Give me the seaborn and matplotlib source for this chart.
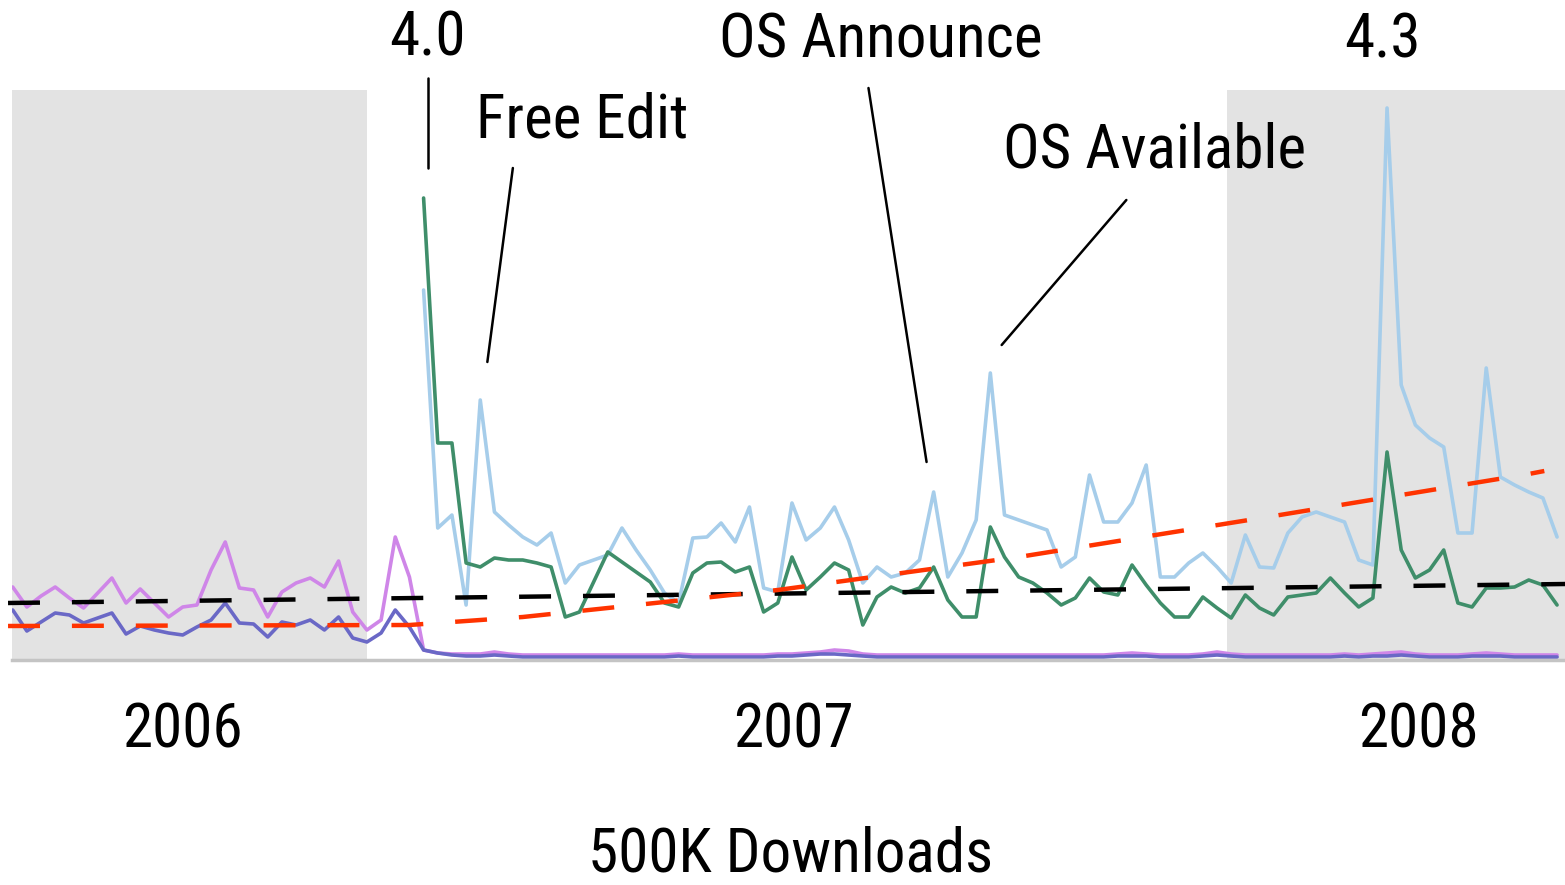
import numpy as np
import pandas as pd
import matplotlib
matplotlib.use("Agg")
import matplotlib.pyplot as plt
from matplotlib import font_manager as fm
import seaborn as sns

# ---------------- data (arbitrary download units, one value per period) ----------------
purple = [73, 53, 64, 73, 62, 52, 67, 82, 57, 71, 57, 43, 53, 55, 90, 118, 72, 70, 43, 68,
          77, 82, 73, 99, 48, 30, 40, 123, 83, 10, 7, 6, 6, 6, 8, 6, 5, 5, 5, 5,
          5, 5, 5, 5, 5, 5, 5, 6, 5, 5, 5, 5, 5, 5, 6, 6, 7, 8, 10, 9,
          6, 5, 5, 5, 5, 5, 5, 5, 5, 5, 5, 5, 5, 5, 5, 5, 5, 5, 6, 7,
          6, 5, 5, 5, 6, 8, 6, 5, 5, 5, 5, 5, 5, 5, 6, 5, 6, 7, 8, 6,
          5, 5, 5, 6, 7, 6, 5, 5, 5, 5]
dark_blue = [50, 29, 38, 47, 45, 37, 42, 47, 26, 34, 30, 27, 25, 33, 40, 57, 37, 36, 23, 38,
             35, 40, 30, 43, 22, 18, 27, 50, 33, 10, 7, 5, 4, 4, 5, 4, 3, 3, 3, 3,
             3, 3, 3, 3, 3, 3, 3, 4, 3, 3, 3, 3, 3, 3, 4, 4, 5, 6, 6, 5,
             4, 3, 3, 3, 3, 3, 3, 3, 3, 3, 3, 3, 3, 3, 3, 3, 3, 3, 4, 4,
             4, 3, 3, 3, 4, 5, 4, 3, 3, 3, 3, 3, 3, 3, 4, 3, 4, 4, 5, 4,
             3, 3, 3, 4, 4, 4, 3, 3, 3, 3]
# light blue and green start at period 29 (release 4.0)
light_blue = [370, 132, 145, 55, 260, 148, 135, 123, 115, 127, 77, 95, 100, 105, 132, 110, 90, 67, 57, 122,
              123, 137, 118, 153, 72, 68, 157, 120, 132, 153, 120, 77, 93, 83, 87, 100, 168, 83, 107, 140,
              287, 145, 140, 135, 130, 93, 103, 185, 138, 138, 157, 195, 83, 83, 97, 107, 93, 77, 125, 93,
              92, 127, 143, 148, 143, 138, 100, 95, 552, 275, 235, 222, 213, 127, 127, 292, 183, 175, 168, 162,
              123]
green = [462, 217, 217, 97, 93, 102, 100, 100, 97, 93, 43, 48, 78, 108, 98, 88, 78, 57, 53, 87,
         97, 98, 88, 93, 48, 57, 103, 70, 83, 97, 90, 35, 63, 73, 67, 72, 93, 60, 43, 43,
         133, 103, 83, 77, 67, 55, 62, 82, 68, 65, 95, 75, 57, 43, 43, 63, 52, 42, 65, 52,
         45, 63, 65, 67, 82, 67, 53, 62, 208, 110, 82, 90, 110, 57, 53, 72, 72, 73, 80, 75,
         55]
start_new = 29

# trend lines (drawn dashed)
black_trend_x = [-0.33, 109.6]
black_trend_y = [57, 76]
red_trend_x = [-0.33, 28, 36, 54, 71, 89, 107, 108.1]
red_trend_y = [34, 35, 43, 70, 103, 144, 186, 189]

# shaded periods (in period index)
shaded = [(-0.05, 25.0), (85.7, 109.6)]

year_labels = ["2006", "2007", "2008"]
year_pos = [12.0, 55.1, 99.2]

# annotations: text, text anchor (x, y), ha, line from, line to
annotations = [
    ("4.0", (29.3, 605), "center", (29.3, 582), (29.3, 492)),
    ("Free Edit", (32.7, 523), "left", (35.3, 492), (33.5, 298)),
    ("OS Announce", (61.3, 603), "center", (60.4, 572), (64.5, 198)),
    ("OS Available", (69.9, 492), "left", (78.6, 460), (69.8, 315)),
    ("4.3", (96.7, 603), "center", None, None),
]
xlabel = "500K Downloads"

# ---------------- build frames ----------------
n = len(purple)
periods = np.arange(n)
df_old = pd.DataFrame({"period": np.concatenate([periods, periods]),
                       "value": purple + dark_blue,
                       "series": ["purple"] * n + ["dark_blue"] * n})
pn = np.arange(start_new, start_new + len(light_blue))
df_new = pd.DataFrame({"period": np.concatenate([pn, pn]),
                       "value": light_blue + green,
                       "series": ["light_blue"] * len(pn) + ["green"] * len(pn)})

colors = {"light_blue": "#a6cdea", "green": "#3f8e6a",
          "purple": "#cf86e8", "dark_blue": "#6a68c6"}

# ---------------- font choice: a condensed sans if one is installed ----------------
installed = {f.name for f in fm.fontManager.ttflist}
condensed = [f.name for f in fm.fontManager.ttflist
             if f.stretch in ("condensed", "semi-condensed", "extra-condensed")
             and "Mono" not in f.name and "Serif" not in f.name]
preferred = ["Liberation Sans Narrow", "Roboto Condensed", "Open Sans Condensed",
             "DejaVu Sans Condensed"]
family = None
for p in preferred:
    if p in installed:
        family = p
        break
if family is None and condensed:
    family = condensed[0]
if family is not None:
    ann_size, year_size, stretch = 44, 44, "condensed"
else:
    family = "Liberation Sans" if "Liberation Sans" in installed else "DejaVu Sans"
    ann_size, year_size, stretch = 40, 40, "normal"

sns.set_style("white")
plt.rcParams["font.family"] = [family, "DejaVu Sans"]
plt.rcParams["text.color"] = "black"
plt.rcParams["lines.scale_dashes"] = False

W, H = 1565, 885
fig = plt.figure(figsize=(W / 100, H / 100), dpi=100)
ax = fig.add_axes([12 / W, (H - 660) / H, (1565 - 12) / W, (660 - 90) / H])

for a, b in shaded:
    ax.axvspan(a, b, color="#e3e3e3", lw=0, zorder=0)

sns.lineplot(data=df_new, x="period", y="value", hue="series", palette=colors,
             hue_order=["light_blue", "green"], estimator=None, sort=False,
             linewidth=2.6, legend=False, ax=ax)
sns.lineplot(data=df_old, x="period", y="value", hue="series", palette=colors,
             hue_order=["purple", "dark_blue"], estimator=None, sort=False,
             linewidth=2.6, legend=False, ax=ax)

ax.plot(black_trend_x, black_trend_y, color="black", lw=3.2, dashes=(23, 23),
        clip_on=False, zorder=5)
ax.plot(red_trend_x, red_trend_y, color="#ff3300", lw=3.2, dashes=(23, 23),
        clip_on=False, zorder=5)

for text, (tx, ty), ha, p0, p1 in annotations:
    ax.text(tx, ty, text, ha=ha, va="baseline", fontsize=ann_size,
            fontstretch=stretch, color="black", clip_on=False)
    if p0 is not None:
        ax.plot([p0[0], p1[0]], [p0[1], p1[1]], color="black", lw=1.8, clip_on=False)

for lab, pos in zip(year_labels, year_pos):
    ax.text(pos, -87, lab, ha="center", va="baseline", fontsize=year_size,
            fontstretch=stretch, color="black", clip_on=False)
ax.text(54.9, -211, xlabel, ha="center", va="baseline", fontsize=year_size,
        fontstretch=stretch, color="black", clip_on=False)

ax.set_xlim(-0.05, 109.56)
ax.set_ylim(0, 570)
ax.set_xticks([])
ax.set_yticks([])
ax.set_xlabel("")
ax.set_ylabel("")
for s in ["top", "left", "right"]:
    ax.spines[s].set_visible(False)
ax.spines["bottom"].set_color("#c4c4c4")
ax.spines["bottom"].set_linewidth(2.5)

fig.savefig("out.png", dpi=100)
